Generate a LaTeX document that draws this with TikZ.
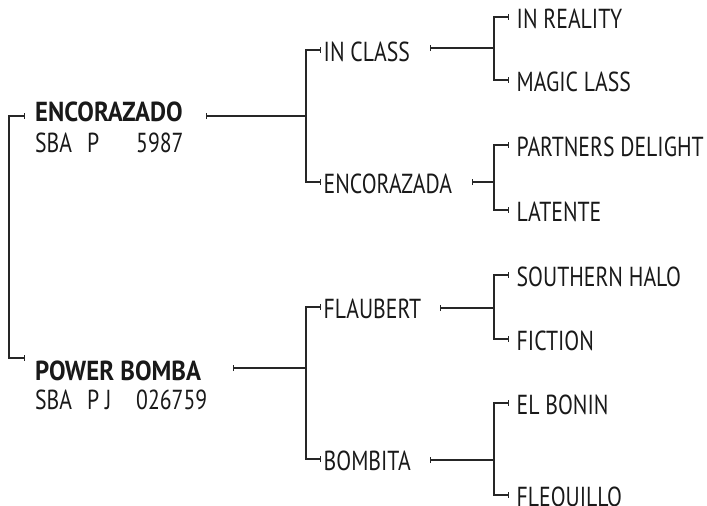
\documentclass[tikz,border=0pt]{standalone}
\usepackage{fontspec}
\setmainfont{PT Sans}[FakeStretch=0.79, BoldFeatures={FakeStretch=0.9}]
\usetikzlibrary{positioning, arrows.meta}

\begin{document}
\begin{tikzpicture}[
    x=1pt, y=-1pt,
    every node/.style={font=\fontsize{27.5}{32}\selectfont, text=black!90, inner ysep=0pt, anchor=west,
        text height=23pt, text depth=0pt},
    genone/.style={font=\fontsize{27.5}{32}\selectfont\bfseries, inner xsep=10pt, text height=19pt},
    regno/.style={inner xsep=0pt, text height=19pt},
    gentwo/.style={inner xsep=2.5pt},
    genthree/.style={inner xsep=7.5pt},
    link/.style={draw=black!85, line width=1.2pt},
    tick/.style={link, {Bar[width=6pt]}-{Bar[width=6pt]}},
    lead/.style={link, {Bar[width=6pt]}-},
]
\useasboundingbox (0,0) rectangle (707,506);

% first generation
\node[genone] (encorazado) at (25,112) {ENCORAZADO};
\node[regno] (encorazado-reg) at (35,143) {\makebox[52pt][l]{SBA}\makebox[49pt][l]{P}5987};
\node[genone] (powerbomba) at (25,371) {POWER BOMBA};
\node[regno] (powerbomba-reg) at (35,400) {\makebox[52pt][l]{SBA}\makebox[49pt][l]{P J}026759};

% second generation
\node[gentwo] (inclass) at (321,50) {IN CLASS};
\node[gentwo] (encorazada) at (321,182) {ENCORAZADA};
\node[gentwo] (flaubert) at (321,307) {FLAUBERT};
\node[gentwo] (bombita) at (321,459) {BOMBITA};

% third generation
\node[genthree] (inreality) at (509,17) {IN REALITY};
\node[genthree] (magiclass) at (509,80) {MAGIC LASS};
\node[genthree] (partners) at (509,145) {PARTNERS DELIGHT};
\node[genthree] (latente) at (509,210) {LATENTE};
\node[genthree] (southern) at (509,275) {SOUTHERN HALO};
\node[genthree] (fiction) at (509,339) {FICTION};
\node[genthree] (elbonin) at (509,403) {EL BONIN};
\node[genthree] (flequillo) at (509,495) {FLEQUILLO};

\coordinate (encorazado-out) at (206,116);
\coordinate (powerbomba-out) at (233,368);
\coordinate (inclass-out) at (430,48);
\coordinate (encorazada-out) at (472,182);
\coordinate (flaubert-out) at (440,308);
\coordinate (bombita-out) at (430,460);

\coordinate (fork-top) at (9,237);
\coordinate (fork-enc) at (306,116);
\coordinate (fork-pb) at (306,368);
\coordinate (fork-ic) at (494,48);
\coordinate (fork-ea) at (494,182);
\coordinate (fork-fl) at (494,308);
\coordinate (fork-bo) at (494,460);

% brackets
\draw[tick] ([yshift=-4pt]encorazado.west) -| (fork-top) |- ([yshift=13pt]powerbomba.west);

\draw[lead] (encorazado-out) -- (fork-enc);
\draw[tick] (inclass.west) -| (fork-enc) |- (encorazada.west);
\draw[lead] (powerbomba-out) -- (fork-pb);
\draw[tick] (flaubert.west) -| (fork-pb) |- (bombita.west);

\draw[lead] (inclass-out) -- (fork-ic);
\draw[tick] (inreality.west) -| (fork-ic) |- (magiclass.west);
\draw[lead] (encorazada-out) -- (fork-ea);
\draw[tick] (partners.west) -| (fork-ea) |- (latente.west);
\draw[lead] (flaubert-out) -- (fork-fl);
\draw[tick] (southern.west) -| (fork-fl) |- (fiction.west);
\draw[lead] (bombita-out) -- (fork-bo);
\draw[tick] (elbonin.west) -| (fork-bo) |- (flequillo.west);
\end{tikzpicture}
\end{document}
